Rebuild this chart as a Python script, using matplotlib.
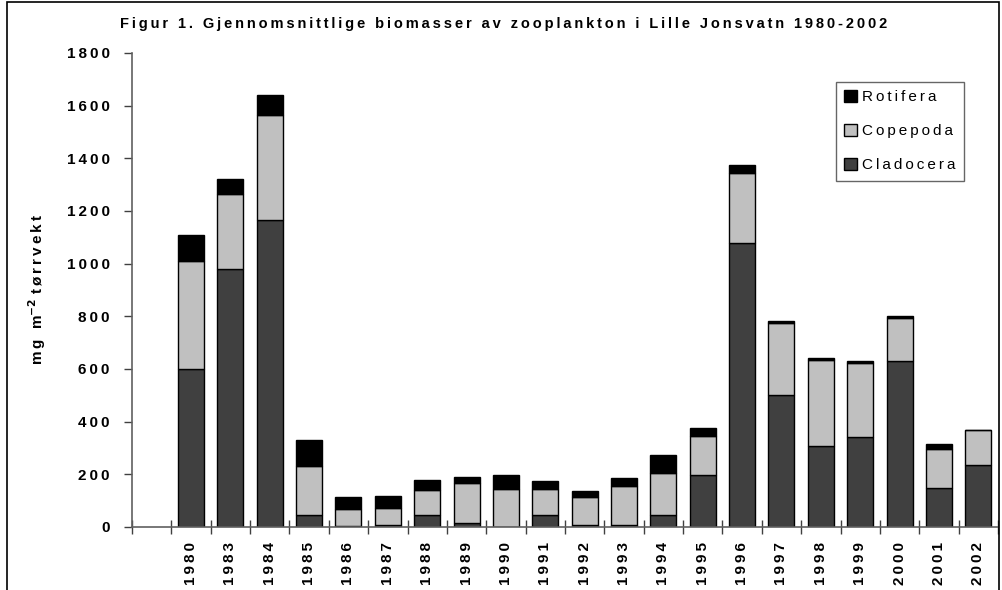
import numpy as np
import matplotlib.pyplot as plt
from matplotlib.patches import Rectangle

plt.rcParams['font.family'] = ['Liberation Sans', 'DejaVu Sans']

years = ['1980', '1983', '1984', '1985', '1986', '1987', '1988', '1989', '1990',
         '1991', '1992', '1993', '1994', '1995', '1996', '1997', '1998', '1999',
         '2000', '2001', '2002']
cladocera = [600, 980, 1165, 45, 2, 8, 45, 15, 0, 44, 6, 8, 44, 197,
             1080, 500, 307, 343, 629, 149, 234]
copepoda = [410, 285, 400, 185, 67, 64, 95, 153, 144, 100, 108, 149, 162, 149,
            266, 276, 327, 279, 164, 148, 134]
rotifera = [100, 55, 75, 100, 45, 47, 40, 23, 55, 30, 23, 29, 66, 29,
            28, 6, 9, 8, 10, 17, 1]
yticks = [0, 200, 400, 600, 800, 1000, 1200, 1400, 1600, 1800]


def spaced(s):
    # the original uses wide letter spacing
    return '\u2009'.join(s)


fig = plt.figure(figsize=(10.02, 5.90), dpi=100)
ax = fig.add_axes([0.1317, 0.1068, 0.996 - 0.1317, 0.9102 - 0.1068])

# border round the whole figure
fig.patches.append(Rectangle((0.007, -0.1), 0.99, 1.097, transform=fig.transFigure,
                             fill=False, edgecolor='black', linewidth=1.2))

x = np.arange(1, len(years) + 1)
clad = np.array(cladocera)
cope = np.array(copepoda)
rot = np.array(rotifera)
w = 0.66
b1 = ax.bar(x, clad, w, color='#404040', edgecolor='black', linewidth=1, label='Cladocera')
b2 = ax.bar(x, cope, w, bottom=clad, color='#c0c0c0', edgecolor='black', linewidth=1, label='Copepoda')
b3 = ax.bar(x, rot, w, bottom=clad + cope, color='black', edgecolor='black', linewidth=1, label='Rotifera')

ax.set_xlim(-0.5, len(years) + 0.5)
ax.set_ylim(0, 1800)
ax.set_yticks(yticks)
ax.set_yticklabels([spaced(str(v)) for v in yticks], fontsize=11, fontweight='bold')
ax.set_xticks(x)
ax.set_xticklabels([spaced(y) for y in years], rotation=90, fontsize=11, fontweight='bold')
ax.set_xticks(np.arange(-0.5, len(years) + 1), minor=True)
ax.tick_params(axis='x', which='major', length=0, pad=11)
ax.tick_params(axis='x', which='minor', direction='inout', length=10, width=1, color='#404040')
ax.tick_params(axis='y', direction='out', length=6, width=1, color='#404040', pad=10)

for s in ['top', 'right']:
    ax.spines[s].set_visible(False)
for s in ['left', 'bottom']:
    ax.spines[s].set_color('#606060')
    ax.spines[s].set_linewidth(1.2)

ax.set_ylabel(spaced('mg m') + '$^{\\mathbf{-2}}$ ' + spaced('tørrvekt'),
              fontsize=11, fontweight='bold')
ax.yaxis.set_label_coords(-0.097, 0.5)

fig.text(0.503, 0.959, spaced('Figur 1. Gjennomsnittlige biomasser av zooplankton i Lille Jonsvatn 1980-2002'),
         ha='center', va='center', fontsize=10.5, fontweight='bold')

leg = ax.legend(handles=[b3, b2, b1],
                labels=[spaced('Rotifera'), spaced('Copepoda'), spaced('Cladocera')],
                loc='upper left', bbox_to_anchor=(0.813, 0.939), borderaxespad=0,
                fontsize=11, frameon=True, fancybox=False, edgecolor='#404040',
                handlelength=0.8, handleheight=0.8, handletextpad=0.35,
                labelspacing=1.3, borderpad=0.55)
leg.get_frame().set_linewidth(1)

fig.savefig('out.png', dpi=100)
